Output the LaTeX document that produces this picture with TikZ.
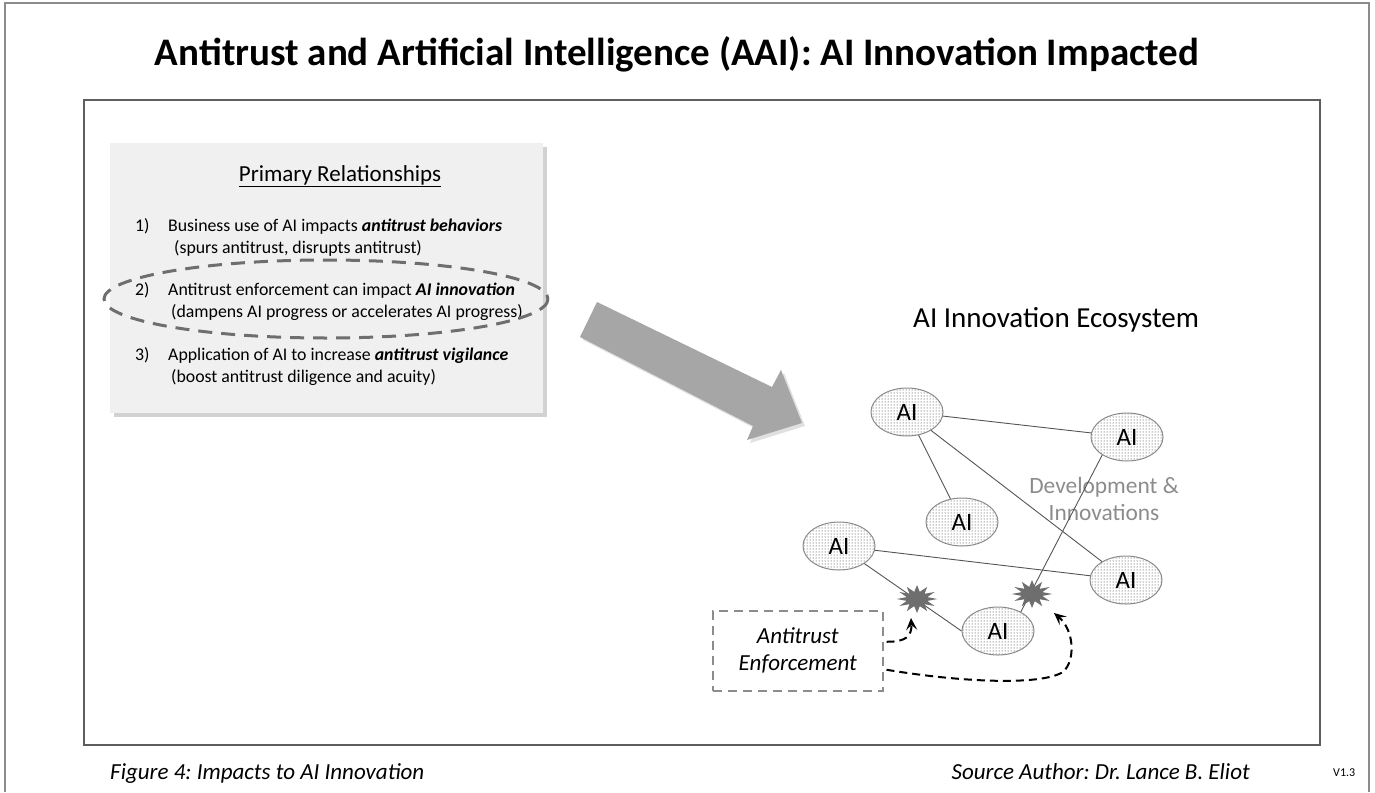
\documentclass[tikz,border=0pt]{standalone}
\usepackage{fontspec}
\setmainfont{Carlito}
\frenchspacing
\usetikzlibrary{shapes.geometric,shapes.misc,arrows.meta,patterns,shadows}
\definecolor{boxfill}{HTML}{F0F0F0}
\definecolor{arrowc}{HTML}{A6A6A6}
\definecolor{starc}{HTML}{6E6E6E}
\definecolor{framec}{HTML}{5E5E5E}
\definecolor{outerc}{HTML}{8C8C8C}
\definecolor{ellc}{HTML}{6E6E6E}
\definecolor{edgec}{HTML}{555555}
\definecolor{nodec}{HTML}{8A8A8A}
\definecolor{devc}{HTML}{8C8C8C}
\definecolor{encc}{HTML}{8C8C8C}
\tikzset{
  ainode/.style={ellipse, draw=nodec, line width=1pt, pattern=dots, pattern color=black!85,
    minimum width=72pt, minimum height=48pt, inner sep=0pt, font=\fontsize{25}{28}\selectfont},
  aiedge/.style={draw=edgec, line width=0.9pt},
  burst/.style={star, star points=12, star point ratio=1.9, fill=starc, draw=none,
    minimum size=28pt, inner sep=0pt, xscale=1.45},
  itemtext/.style={anchor=base west, font=\fontsize{17.8}{20}\selectfont, inner sep=0pt},
  enfarrow/.style={draw=black, line width=2pt, dash pattern=on 8pt off 5pt,
    -{Stealth[length=12pt,width=11pt,inset=5pt]}},
}
\begin{document}
\begin{tikzpicture}[x=1pt,y=-1pt]
\useasboundingbox (0,0) rectangle (1375,792);
% outer frame
\draw[outerc, line width=1.5pt] (5,792) -- (5,3) -- (1369,3) -- (1369,792);
% title
\node[anchor=base, font=\fontsize{39}{44}\selectfont\bfseries, inner sep=0pt] (title) at (677,66)
  {Antitrust and Artificial Intelligence (AAI): AI Innovation Impacted};
% inner frame
\draw[framec, line width=1.5pt] (84,100) rectangle (1320,745);
% primary relationships box
\node[fill=boxfill, draw=none, anchor=north west, minimum width=433pt, minimum height=270pt,
  inner sep=0pt, drop shadow={shadow xshift=4pt, shadow yshift=-4pt, opacity=0.25, fill=black!70}]
  (prim) at (110,143) {};
\node[anchor=base, font=\fontsize{23}{26}\selectfont, inner sep=0pt] (primt) at (340,181)
  {\underline{Primary Relationships}};
\node[itemtext] (n1a) at (135,231) {1)};
\node[itemtext] (t1a) at (168,231) {Business use of AI impacts \textbf{\textit{antitrust behaviors}}};
\node[itemtext] (t1b) at (174,253) {(spurs antitrust, disrupts antitrust)};
\node[itemtext] (n2a) at (135,295) {2)};
\node[itemtext] (t2a) at (168,295) {Antitrust enforcement can impact \textbf{\textit{AI innovation}}};
\node[itemtext] (t2b) at (171,317) {(dampens AI progress or accelerates AI progress)};
\node[itemtext] (n3a) at (135,360) {3)};
\node[itemtext] (t3a) at (168,360) {Application of AI to increase \textbf{\textit{antitrust vigilance}}};
\node[itemtext] (t3b) at (171,382) {(boost antitrust diligence and acuity)};
% dashed highlight ellipse
\draw[ellc, line width=3pt, dash pattern=on 14pt off 9pt] (326,299) ellipse [x radius=222, y radius=39];
% big arrow
\path[fill=arrowc, drop shadow={shadow xshift=3pt, shadow yshift=-3pt, opacity=0.2, fill=black!60}]
  (597,302) -- (772,387) -- (781,370) -- (802,423) -- (747,440) -- (753,426) -- (580,337) -- cycle;
% ecosystem title
\node[anchor=base west, font=\fontsize{29}{32}\selectfont, inner sep=0pt] (eco) at (913,327) {AI Innovation Ecosystem};
% AI nodes
\node[ainode] (a1) at (907,412) {AI};
\node[ainode] (a2) at (1127,437) {AI};
\node[ainode] (a3) at (962,522) {AI};
\node[ainode] (a4) at (839,546) {AI};
\node[ainode] (a5) at (1126,580) {AI};
\node[ainode] (a6) at (998,631) {AI};
\node[text=devc, align=center, font=\fontsize{23.4}{27}\selectfont, inner sep=0pt] (dev) at (1104,499)
  {Development \&\\Innovations};
% edges
\draw[aiedge] (a1) -- (a2);
\draw[aiedge] (a1) -- (a3);
\draw[aiedge] (a1) -- (a5);
\draw[aiedge] (a4) -- (a5);
\draw[aiedge] (a4) -- (a6.west);
\draw[aiedge] (a2.216) -- (a6.40);
% bursts
\node[burst] (s1) at (917,599) {};
\node[burst] (s2) at (1032,594) {};
% antitrust enforcement box
\node[draw=encc, line width=1.5pt, dash pattern=on 9pt off 6pt, anchor=north west,
  minimum width=170pt, minimum height=80pt, inner sep=0pt, align=center,
  font=\itshape\fontsize{23}{27}\selectfont] (enf) at (712,610) {Antitrust\\Enforcement};
% dashed arrows
\draw[enfarrow] ([shift={(3,-9)}]enf.east) .. controls (906,642) and (912,636) .. ([shift={(-6,19)}]s1.center);
\draw[enfarrow] ([shift={(3,19)}]enf.east) .. controls (960,682) and (1040,686) .. (1063,672)
  .. controls (1076,660) and (1074,630) .. ([shift={(22,19)}]s2.center);
% captions
\node[anchor=base west, font=\itshape\fontsize{23}{26}\selectfont, inner sep=0pt] (cap) at (110,779)
  {Figure 4: Impacts to AI Innovation};
\node[anchor=base east, font=\itshape\fontsize{23}{26}\selectfont, inner sep=0pt] (src) at (1250,779)
  {Source Author: Dr. Lance B. Eliot};
\node[anchor=base west, font=\fontsize{12}{14}\selectfont, inner sep=0pt] (ver) at (1333,776) {V1.3};
\end{tikzpicture}
\end{document}
